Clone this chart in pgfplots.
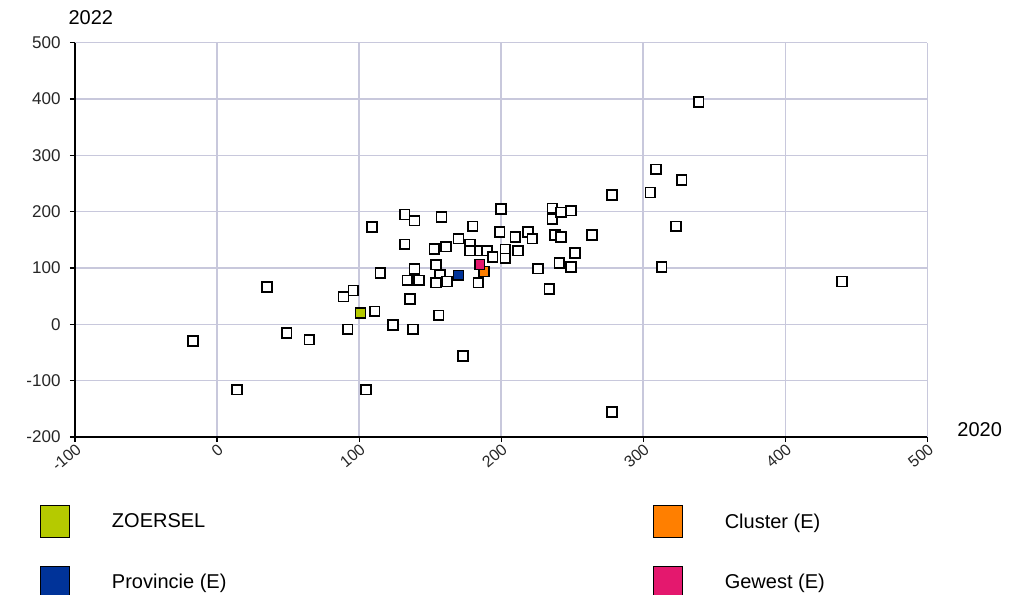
\documentclass[border=0pt]{standalone}
\usepackage{pgfplots}
\pgfplotsset{compat=1.18}
\usepackage{fontspec}
\setmainfont{Liberation Sans}

\definecolor{gridc}{RGB}{200,200,220}
\definecolor{zgreen}{RGB}{181,202,0}
\definecolor{corange}{RGB}{255,127,0}
\definecolor{pblue}{RGB}{0,51,153}
\definecolor{gpink}{RGB}{228,24,110}

\begin{document}
\begin{tikzpicture}
\path[use as bounding box] (0,0) rectangle (1028bp,595bp);
\begin{axis}[
    at={(75bp,158bp)}, anchor=south west,
    scale only axis,
    width=852.3bp, height=394.3bp,
    xmin=-100, xmax=500,
    ymin=-200, ymax=500,
    xtick={-100,0,...,500},
    ytick={-200,-100,...,500},
    axis lines*=left,
    axis line style={line width=1.6bp, black, -},
    xmajorgrids, ymajorgrids,
    grid style={gridc, line width=1.5bp},
    tick align=outside,
    major tick length=5bp,
    tick style={black, line width=1.2bp},
    /pgf/number format/assume math mode=true,
    yticklabel style={font=\fontsize{17bp}{19bp}\selectfont, text=black!85, xshift=-6bp},
    xticklabel style={font=\fontsize{16bp}{18bp}\selectfont, text=black!85, rotate=40, anchor=north east, xshift=3bp, yshift=3bp},
    every axis y label/.style={at={(axis description cs:-0.0117,1.063)}, anchor=west, font=\fontsize{20bp}{22bp}\selectfont},
    every axis x label/.style={at={(axis description cs:1.0313,0.0178)}, anchor=west, font=\fontsize{20bp}{22bp}\selectfont},
    ylabel={2022},
    xlabel={2020},
    legend columns=2,
    legend cell align=left,
    legend style={
        at={(axis description cs:-0.04107,-0.17245)}, anchor=north west,
        draw=none, fill=none, inner sep=0pt,
        nodes={inner sep=0pt},
        row sep=28bp,
        font=\fontsize{20bp}{22bp}\selectfont,
        /tikz/every odd column/.append style={column sep=42bp},
    },
]

% gemeenten
\addplot[only marks, mark=square*, mark size=4.9bp,
    mark options={draw=black, fill=white, line width=1.7bp}, forget plot]
    coordinates {
    (-17,-30)(14,-116)(35,66)(49,-15)(65,-27)(89,49)(96,60)(92,-9)
    (111,23)(105,-116)(109,173)(115,91)(124,-1)(132,195)(132,142)(139,184)
    (134,78)(139,98)(142,78)(136,45)(138,-9)(158,191)(153,134)(161,138)
    (170,152)(180,174)(154,106)(157,88)(154,74)(162,76)(156,16)(173,-56)
    (178,142)(178,131)(185,131)(190,131)(200,205)(199,164)(194,120)(203,133)
    (203,117)(210,155)(212,131)(219,164)(222,152)(226,99)(184,74)(236,206)
    (236,187)(242,199)(249,202)(238,159)(242,155)(252,127)(241,109)(249,102)
    (234,63)(264,159)(278,230)(278,-156)(305,234)(309,275)(327,256)(323,174)
    (313,102)(339,395)(440,76)
    };

\addplot[only marks, mark=square*, mark size=4.9bp,
    mark options={draw=black, fill=zgreen, line width=1.5bp},
    legend image code/.code={\draw[draw=black, fill=zgreen, line width=0.8bp] (0bp,-16bp) rectangle (29bp,16bp);}]
    coordinates {(101,20)};
\addlegendentry{\makebox[541bp][l]{ZOERSEL}}

\addplot[only marks, mark=square*, mark size=4.9bp,
    mark options={draw=black, fill=corange, line width=1.5bp},
    legend image code/.code={\draw[draw=black, fill=corange, line width=0.8bp] (0bp,-16bp) rectangle (29bp,16bp);}]
    coordinates {(188,94)};
\addlegendentry{Cluster (E)}

\addplot[only marks, mark=square*, mark size=4.9bp,
    mark options={draw=black, fill=pblue, line width=1.5bp},
    legend image code/.code={\draw[draw=black, fill=pblue, line width=0.8bp] (0bp,-16bp) rectangle (29bp,16bp);}]
    coordinates {(170,87)};
\addlegendentry{\makebox[541bp][l]{Provincie (E)}}

\addplot[only marks, mark=square*, mark size=4.9bp,
    mark options={draw=black, fill=gpink, line width=1.5bp},
    legend image code/.code={\draw[draw=black, fill=gpink, line width=0.8bp] (0bp,-16bp) rectangle (29bp,16bp);}]
    coordinates {(185,106)};
\addlegendentry{Gewest (E)}

\end{axis}
\end{tikzpicture}
\end{document}
